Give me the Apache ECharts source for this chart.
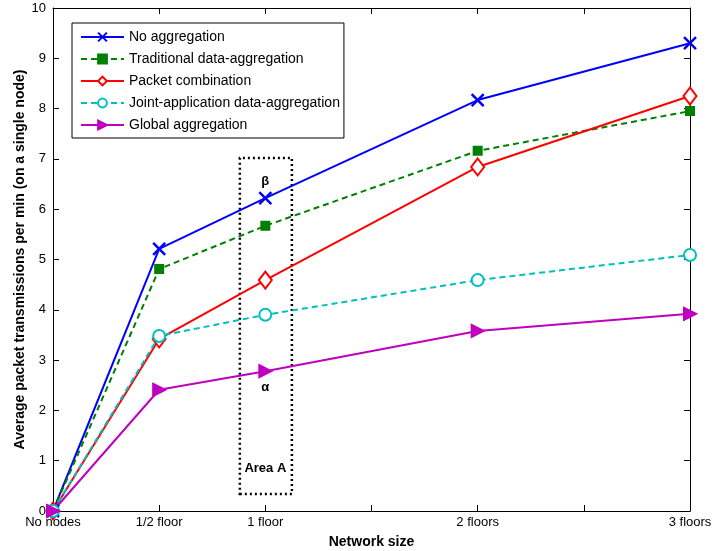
<!DOCTYPE html>
<html><head><meta charset="utf-8">
<script src="https://cdn.jsdelivr.net/npm/echarts@6/dist/echarts.min.js"></script>
<style>html,body{margin:0;padding:0;background:#fff}#c{width:713px;height:551px}</style>
</head><body><div id="c"></div>
<script>
const xValues = [0, 1, 2, 4, 6];
const xTickLabels = {0:'No nodes', 1:'1/2 floor', 2:'1 floor', 4:'2 floors', 6:'3 floors'};
const noAgg = [0, 5.21, 6.22, 8.17, 9.30];
const tradAgg = [0, 4.81, 5.67, 7.16, 7.95];
const packetComb = [0, 3.42, 4.59, 6.84, 8.25];
const jointAgg = [0, 3.48, 3.90, 4.59, 5.09];
const globalAgg = [0, 2.41, 2.78, 3.58, 3.92];
const seriesNames = ['No aggregation','Traditional data-aggregation','Packet combination','Joint-application data-aggregation','Global aggregation'];
const annotations = [[2, 6.55, 'β'], [2, 2.45, 'α'], [2, 0.85, 'Area A']];
const areaBox = [[1.76, 0.34], [2.25, 7.02]];

const font = 'Liberation Sans, Arial, sans-serif';
const pts = arr => xValues.map((x, i) => [x, arr[i]]);
const chart = echarts.init(document.getElementById('c'));
const mk = (name, data, color, symbol, size, extra) => Object.assign({
  name, type: 'line', data: pts(data), symbol, symbolSize: size,
  lineStyle: {color, width: 2}, itemStyle: {color, borderColor: color, borderWidth: 2},
  z: 5
}, extra || {});
const axLine = {show: true, onZero: false, lineStyle: {color: '#000', width: 1}};
const axTick = {show: true, inside: true, length: 6, lineStyle: {color: '#000'}};

chart.setOption({
  animation: false,
  grid: {left: 53, right: 23, top: 8, bottom: 40, outerBoundsMode: 'none', containLabel: false},
  xAxis: [{
    type: 'value', min: 0, max: 6, interval: 1, position: 'bottom',
    axisLine: axLine, axisTick: axTick,
    axisLabel: {color: '#000', fontSize: 13, fontFamily: font, margin: 5,
      formatter: v => xTickLabels[v] || ''},
    splitLine: {show: false},
    name: 'Network size', nameLocation: 'middle', nameGap: 24,
    nameTextStyle: {color: '#000', fontSize: 14, fontWeight: 'bold', fontFamily: font}
  }, {
    type: 'value', min: 0, max: 6, interval: 1, position: 'top',
    axisLine: axLine, axisTick: axTick,
    axisLabel: {show: false}, splitLine: {show: false}
  }],
  yAxis: [{
    type: 'value', min: 0, max: 10, interval: 1, position: 'left',
    axisLine: axLine, axisTick: axTick,
    axisLabel: {color: '#000', fontSize: 13, fontFamily: font, margin: 7},
    splitLine: {show: false},
    name: 'Average packet transmissions per min (on a single node)',
    nameLocation: 'middle', nameGap: 26, nameMoveOverlap: false,
    nameTextStyle: {color: '#000', fontSize: 14, fontWeight: 'bold', fontFamily: font}
  }, {
    type: 'value', min: 0, max: 10, interval: 1, position: 'right',
    axisLine: axLine, axisTick: axTick,
    axisLabel: {show: false}, splitLine: {show: false}
  }],
  legend: {
    orient: 'vertical', left: 72, top: 23,
    data: seriesNames,
    itemWidth: 43, itemHeight: 11, itemGap: 8,
    padding: [7, 4, 6, 8],
    borderColor: '#000', borderWidth: 1, backgroundColor: '#fff',
    textStyle: {color: '#000', fontSize: 14, fontFamily: font},
    z: 10
  },
  series: [
    mk(seriesNames[0], noAgg, '#0000ff', 'path://M0,0L10,10M10,0L0,10', 12, {itemStyle: {color: '#0000ff', borderColor: '#0000ff', borderWidth: 2.5}}),
    mk(seriesNames[1], tradAgg, '#008000', 'rect', 8, {lineStyle: {color: '#008000', width: 2, type: [6, 4]}}),
    mk(seriesNames[2], packetComb, '#ff0000', 'emptyDiamond', [13, 17]),
    mk(seriesNames[3], jointAgg, '#00bfbf', 'emptyCircle', 12, {lineStyle: {color: '#00bfbf', width: 2, type: [6, 4]}}),
    mk(seriesNames[4], globalAgg, '#bf00bf', 'triangle', 12, {symbolRotate: -90}),
    {
      type: 'scatter', name: 'notes', symbolSize: 0, silent: true,
      itemStyle: {opacity: 1, color: '#000'},
      data: annotations.map(a => ({value: [a[0], a[1]], label: {formatter: a[2]}})),
      label: {show: true, position: 'inside', color: '#000', fontSize: 13, fontWeight: 'bold', fontFamily: font,
        textBorderWidth: 0, textBorderColor: 'transparent', opacity: 1},
      markArea: {
        silent: true,
        label: {show: false},
        itemStyle: {color: 'rgba(0,0,0,0)', borderColor: '#000', borderWidth: 2.5, borderType: [2, 3], opacity: 1},
        data: [[{coord: areaBox[0]}, {coord: areaBox[1]}]]
      }
    }
  ]
});
</script></body></html>
